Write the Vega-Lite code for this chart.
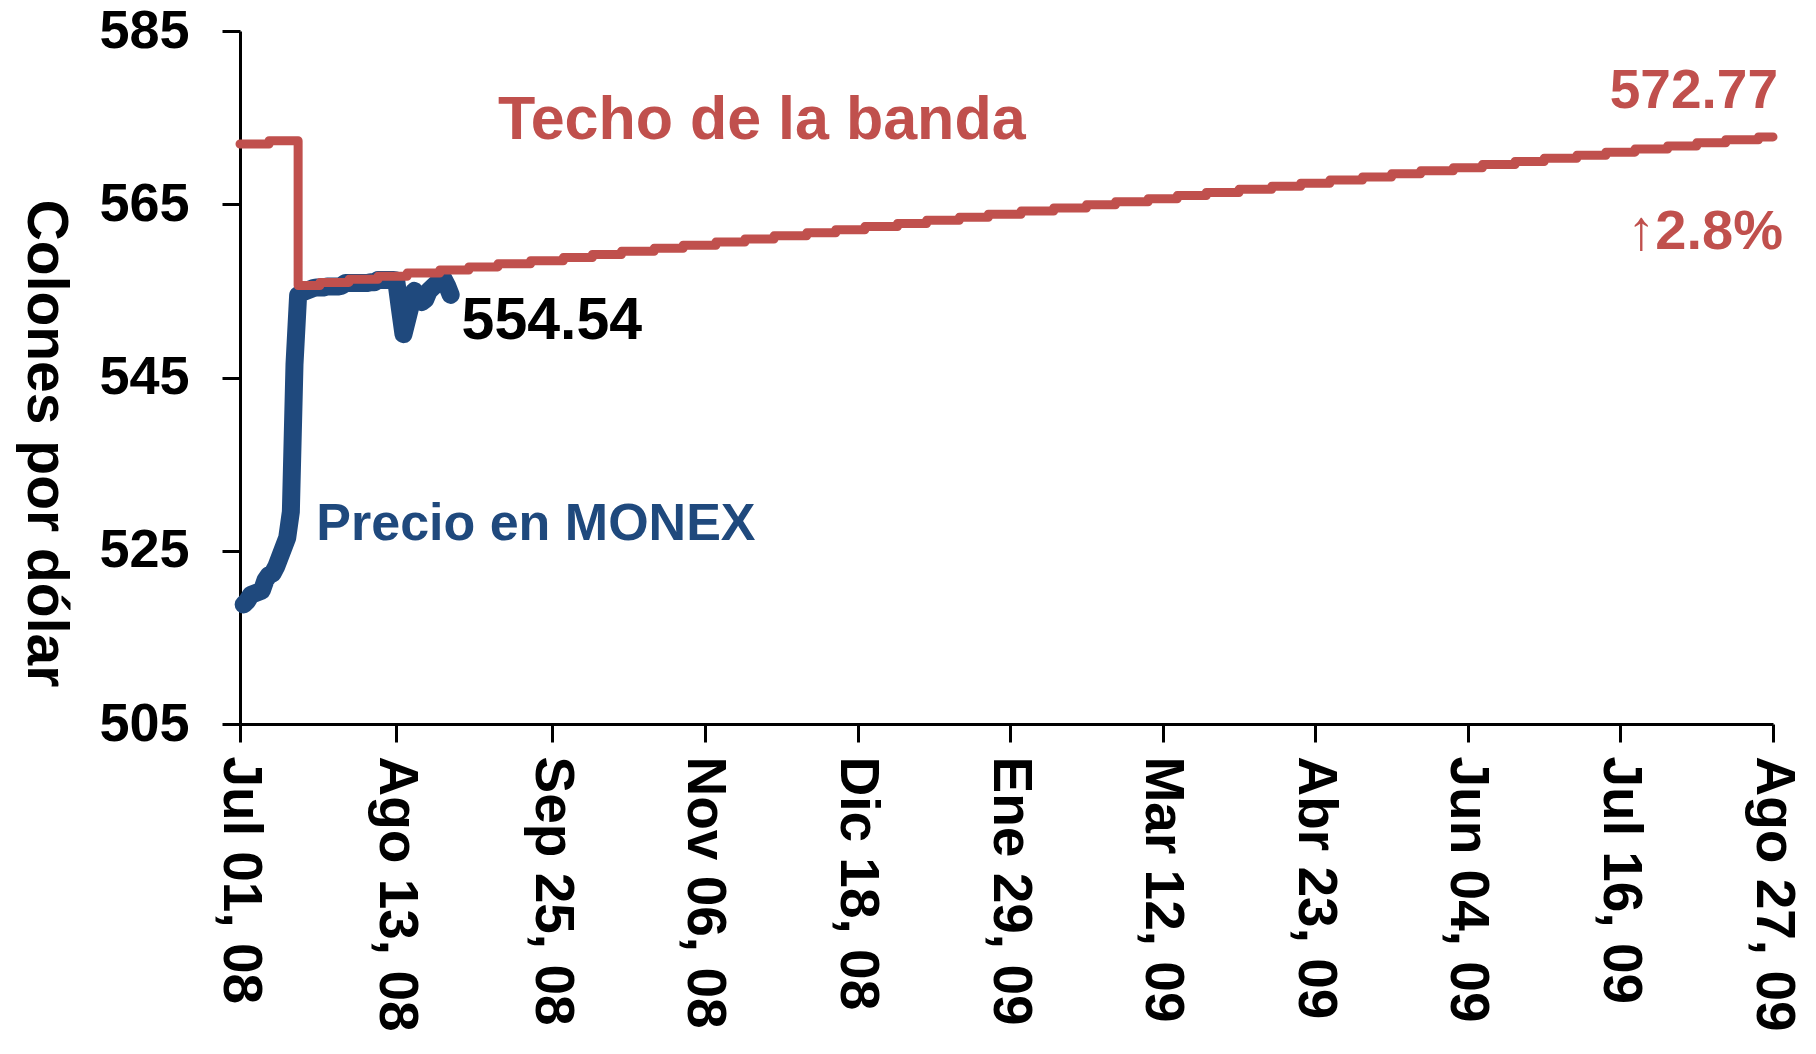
{
  "$schema": "https://vega.github.io/schema/vega-lite/v6.json",
  "autosize": "none",
  "width": 1533,
  "height": 693,
  "padding": {"left": 240, "top": 31, "right": 43, "bottom": 330},
  "background": "white",
  "config": {
    "view": {"stroke": null},
    "axis": {"grid": false, "domainColor": "black", "domainWidth": 3, "tickColor": "black", "tickWidth": 3, "labelColor": "black", "titleColor": "black"}
  },
  "datasets": {
    "monex": [
      {"fecha": "2008-07-02", "valor": 518.8},
      {"fecha": "2008-07-03", "valor": 519.2},
      {"fecha": "2008-07-04", "valor": 519.9},
      {"fecha": "2008-07-07", "valor": 520.4},
      {"fecha": "2008-07-08", "valor": 521.6},
      {"fecha": "2008-07-09", "valor": 522.2},
      {"fecha": "2008-07-10", "valor": 522.4},
      {"fecha": "2008-07-11", "valor": 523.2},
      {"fecha": "2008-07-14", "valor": 526.5},
      {"fecha": "2008-07-15", "valor": 529.5},
      {"fecha": "2008-07-16", "valor": 546.5},
      {"fecha": "2008-07-17", "valor": 554.5},
      {"fecha": "2008-07-18", "valor": 554.8},
      {"fecha": "2008-07-21", "valor": 555.3},
      {"fecha": "2008-07-22", "valor": 555.4},
      {"fecha": "2008-07-23", "valor": 555.4},
      {"fecha": "2008-07-24", "valor": 555.4},
      {"fecha": "2008-07-25", "valor": 555.5},
      {"fecha": "2008-07-28", "valor": 555.5},
      {"fecha": "2008-07-29", "valor": 555.6},
      {"fecha": "2008-07-30", "valor": 555.9},
      {"fecha": "2008-07-31", "valor": 555.9},
      {"fecha": "2008-08-01", "valor": 555.9},
      {"fecha": "2008-08-04", "valor": 555.9},
      {"fecha": "2008-08-05", "valor": 555.9},
      {"fecha": "2008-08-06", "valor": 556.0},
      {"fecha": "2008-08-07", "valor": 556.0},
      {"fecha": "2008-08-08", "valor": 556.25},
      {"fecha": "2008-08-11", "valor": 556.25},
      {"fecha": "2008-08-12", "valor": 556.25},
      {"fecha": "2008-08-13", "valor": 556.2},
      {"fecha": "2008-08-14", "valor": 553.0},
      {"fecha": "2008-08-15", "valor": 550.0},
      {"fecha": "2008-08-18", "valor": 555.0},
      {"fecha": "2008-08-19", "valor": 554.4},
      {"fecha": "2008-08-20", "valor": 553.7},
      {"fecha": "2008-08-21", "valor": 554.0},
      {"fecha": "2008-08-22", "valor": 555.0},
      {"fecha": "2008-08-25", "valor": 556.2},
      {"fecha": "2008-08-26", "valor": 556.4},
      {"fecha": "2008-08-27", "valor": 555.6},
      {"fecha": "2008-08-28", "valor": 554.54}
    ],
    "techo": [
      {"fecha": "2008-07-01", "valor": 571.96},
      {"fecha": "2008-07-09", "valor": 572.34},
      {"fecha": "2008-07-16", "valor": 572.34},
      {"fecha": "2008-07-17", "valor": 555.62},
      {"fecha": "2008-07-23", "valor": 555.98},
      {"fecha": "2008-07-31", "valor": 556.33},
      {"fecha": "2008-08-08", "valor": 556.69},
      {"fecha": "2008-08-16", "valor": 557.05},
      {"fecha": "2008-08-25", "valor": 557.41},
      {"fecha": "2008-09-02", "valor": 557.77},
      {"fecha": "2008-09-10", "valor": 558.12},
      {"fecha": "2008-09-19", "valor": 558.48},
      {"fecha": "2008-09-28", "valor": 558.84},
      {"fecha": "2008-10-06", "valor": 559.20},
      {"fecha": "2008-10-14", "valor": 559.56},
      {"fecha": "2008-10-23", "valor": 559.91},
      {"fecha": "2008-10-31", "valor": 560.27},
      {"fecha": "2008-11-09", "valor": 560.63},
      {"fecha": "2008-11-17", "valor": 560.99},
      {"fecha": "2008-11-25", "valor": 561.35},
      {"fecha": "2008-12-04", "valor": 561.70},
      {"fecha": "2008-12-12", "valor": 562.06},
      {"fecha": "2008-12-20", "valor": 562.42},
      {"fecha": "2008-12-29", "valor": 562.78},
      {"fecha": "2009-01-06", "valor": 563.14},
      {"fecha": "2009-01-15", "valor": 563.49},
      {"fecha": "2009-01-23", "valor": 563.85},
      {"fecha": "2009-02-01", "valor": 564.21},
      {"fecha": "2009-02-10", "valor": 564.57},
      {"fecha": "2009-02-19", "valor": 564.93},
      {"fecha": "2009-02-27", "valor": 565.28},
      {"fecha": "2009-03-08", "valor": 565.64},
      {"fecha": "2009-03-16", "valor": 566.00},
      {"fecha": "2009-03-24", "valor": 566.36},
      {"fecha": "2009-04-02", "valor": 566.72},
      {"fecha": "2009-04-11", "valor": 567.07},
      {"fecha": "2009-04-19", "valor": 567.43},
      {"fecha": "2009-04-27", "valor": 567.79},
      {"fecha": "2009-05-06", "valor": 568.15},
      {"fecha": "2009-05-14", "valor": 568.51},
      {"fecha": "2009-05-22", "valor": 568.86},
      {"fecha": "2009-05-31", "valor": 569.22},
      {"fecha": "2009-06-08", "valor": 569.58},
      {"fecha": "2009-06-17", "valor": 569.94},
      {"fecha": "2009-06-25", "valor": 570.30},
      {"fecha": "2009-07-04", "valor": 570.65},
      {"fecha": "2009-07-12", "valor": 571.01},
      {"fecha": "2009-07-20", "valor": 571.37},
      {"fecha": "2009-07-29", "valor": 571.73},
      {"fecha": "2009-08-06", "valor": 572.09},
      {"fecha": "2009-08-14", "valor": 572.44},
      {"fecha": "2009-08-23", "valor": 572.77},
      {"fecha": "2009-08-27", "valor": 572.77}
    ]
  },
  "encoding": {
    "x": {
      "field": "fecha",
      "type": "temporal",
      "scale": {
        "type": "utc",
        "nice": false,
        "domain": [
          {"year": 2008, "month": 7, "date": 1, "utc": true},
          {"year": 2009, "month": 8, "date": 27, "utc": true}
        ]
      },
      "axis": {
        "title": null,
        "values": [
          {"year": 2008, "month": 7, "date": 1, "utc": true},
          {"year": 2008, "month": 8, "date": 13, "utc": true},
          {"year": 2008, "month": 9, "date": 25, "utc": true},
          {"year": 2008, "month": 11, "date": 6, "utc": true},
          {"year": 2008, "month": 12, "date": 18, "utc": true},
          {"year": 2009, "month": 1, "date": 29, "utc": true},
          {"year": 2009, "month": 3, "date": 12, "utc": true},
          {"year": 2009, "month": 4, "date": 23, "utc": true},
          {"year": 2009, "month": 6, "date": 4, "utc": true},
          {"year": 2009, "month": 7, "date": 16, "utc": true},
          {"year": 2009, "month": 8, "date": 27, "utc": true}
        ],
        "labelExpr": "replace(replace(replace(replace(utcFormat(datum.value, '%b %d, %y'), 'Aug', 'Ago'), 'Dec', 'Dic'), 'Jan', 'Ene'), 'Apr', 'Abr')",
        "labelAngle": 90,
        "labelAlign": "left",
        "labelBaseline": "middle",
        "labelPadding": 14,
        "labelLimit": 0,
        "tickSize": 18,
        "labelFont": "Liberation Sans",
        "labelFontWeight": "bold",
        "labelFontSize": 55,
        "labelOverlap": false,
        "labelBound": false,
        "labelFlush": false
      }
    },
    "y": {
      "field": "valor",
      "type": "quantitative",
      "scale": {"domain": [505, 585], "nice": false, "zero": false},
      "axis": {
        "title": "Colones por dólar",
        "values": [505, 525, 545, 565, 585],
        "tickSize": 18,
        "labelPadding": 33,
        "labelLimit": 0,
        "labelFont": "Liberation Sans",
        "labelFontWeight": "bold",
        "labelFontSize": 54,
        "titleFont": "Liberation Sans",
        "titleFontWeight": "bold",
        "titleFontSize": 57,
        "titleAngle": 90,
        "titleAlign": "center",
        "titleBaseline": "middle",
        "titleX": -196,
        "titleY": 412,
        "titleLimit": 0
      }
    }
  },
  "layer": [
    {
      "data": {"name": "monex"},
      "mark": {"type": "line", "color": "#1F497D", "strokeWidth": 18, "strokeCap": "round", "strokeJoin": "round"}
    },
    {
      "data": {"name": "techo"},
      "mark": {"type": "line", "interpolate": "step-after", "color": "#C0504D", "strokeWidth": 9, "strokeCap": "round", "strokeJoin": "round"}
    },
    {
      "data": {"values": [{"fecha": "2008-09-10", "valor": 572.53, "texto": "Techo de la banda"}]},
      "mark": {"type": "text", "align": "left", "baseline": "alphabetic", "font": "Liberation Sans", "fontWeight": "bold", "fontSize": 61, "color": "#C0504D"},
      "encoding": {"text": {"field": "texto", "type": "nominal"}}
    },
    {
      "data": {"values": [{"fecha": "2008-07-22", "valor": 526.24, "texto": "Precio en MONEX"}]},
      "mark": {"type": "text", "align": "left", "baseline": "alphabetic", "font": "Liberation Sans", "fontWeight": "bold", "fontSize": 52, "color": "#1F497D"},
      "encoding": {"text": {"field": "texto", "type": "nominal"}}
    },
    {
      "data": {"values": [{"fecha": "2008-08-31", "valor": 549.41, "texto": "554.54"}]},
      "mark": {"type": "text", "align": "left", "baseline": "alphabetic", "font": "Liberation Sans", "fontWeight": "bold", "fontSize": 59, "color": "black"},
      "encoding": {"text": {"field": "texto", "type": "nominal"}}
    },
    {
      "data": {"values": [{"fecha": "2009-08-27", "valor": 576.15, "texto": "572.77"}]},
      "mark": {"type": "text", "align": "right", "baseline": "alphabetic", "dx": 5, "font": "Liberation Sans", "fontWeight": "bold", "fontSize": 55, "color": "#C0504D"},
      "encoding": {"text": {"field": "texto", "type": "nominal"}}
    },
    {
      "data": {"values": [{"fecha": "2009-08-27", "valor": 559.83, "texto": "↑2.8%"}]},
      "mark": {"type": "text", "align": "right", "baseline": "alphabetic", "dx": 10, "font": "Liberation Sans", "fontWeight": "bold", "fontSize": 56, "color": "#C0504D"},
      "encoding": {"text": {"field": "texto", "type": "nominal"}}
    }
  ]
}
